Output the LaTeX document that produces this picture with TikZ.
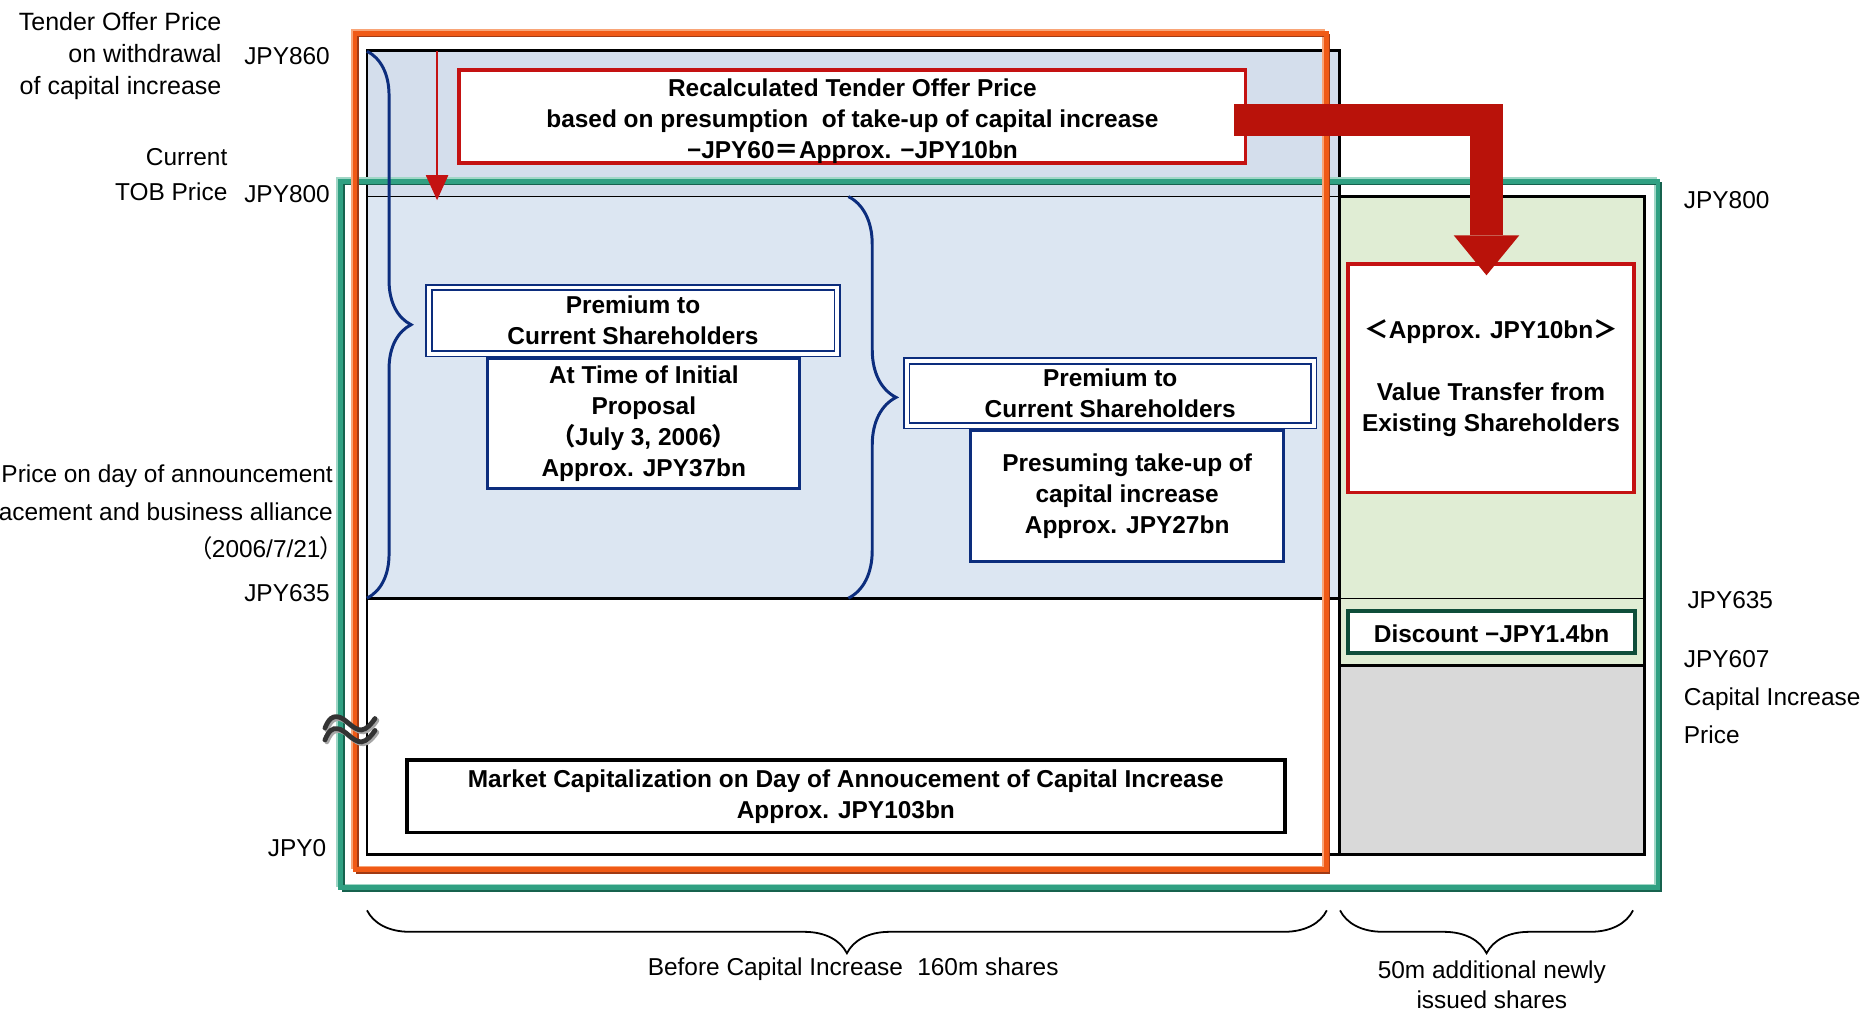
\documentclass[tikz,border=0pt]{standalone}
\usepackage{fontspec}
\setmainfont{Liberation Sans}
\newfontfamily\cjk{Noto Sans CJK JP}
\newfontfamily\cjkp[RawFeature=+palt]{Noto Sans CJK JP}
\usetikzlibrary{arrows.meta,decorations.pathreplacing,calc}
\definecolor{navy}{RGB}{12,45,125}
\definecolor{redbox}{RGB}{196,18,18}
\definecolor{bigred}{RGB}{185,18,10}
\definecolor{orangeM}{RGB}{240,90,22}
\definecolor{orangeL}{RGB}{248,165,120}
\definecolor{orangeD}{RGB}{160,58,20}
\definecolor{greenM}{RGB}{48,160,130}
\definecolor{greenL}{RGB}{160,215,198}
\definecolor{greenD}{RGB}{22,98,78}
\definecolor{bluefill}{RGB}{220,230,242}
\definecolor{bluehatch}{RGB}{212,222,236}
\definecolor{greenfill}{RGB}{224,237,212}
\definecolor{grayfill}{RGB}{217,217,217}
\definecolor{discgreen}{RGB}{14,78,58}
\begin{document}
\begin{tikzpicture}[x=1pt,y=-1pt,
  txt/.style={inner sep=0pt, font=\fontsize{20.5}{26}\selectfont},
  bx/.style={inner sep=0pt, align=center, fill=white, font=\fontsize{20.5}{26}\selectfont\bfseries,
    execute at begin node={\rule{0pt}{18pt}}},
  prem/.style={bx, draw=navy, double=white, double distance=3pt, line width=1.5pt},
  sub/.style={bx, draw=navy, line width=2.5pt},
  redframe/.style={bx, draw=redbox, line width=3pt},
  thickline/.style={line width=2.5pt},
  thinline/.style={line width=1pt},
  bracel/.style={navy, line width=2.5pt, decorate, decoration={brace, amplitude=#1}},
  braceb/.style={black, line width=1.5pt, decorate, decoration={brace, amplitude=36pt}},
  wave/.style={line width=4pt, line cap=round}
]
\useasboundingbox (0,0) rectangle (1566,848.46);

% ---- fills
\fill[bluehatch] (308,42) rectangle (1124,165);
\fill[bluefill] (308,165) rectangle (1124,502);
\fill[greenfill] (1124,165) rectangle (1380,558.6);
\fill[grayfill] (1124,558.6) rectangle (1380,717);

% ---- grid lines
\draw[thickline] (308,42) rectangle (1124,717);
\draw[thinline] (308,165) -- (1124,165);
\draw[thickline] (308,502) -- (1124,502);
\draw[thickline] (1124,165) rectangle (1380,717);
\draw[thinline] (1124,502.5) -- (1380,502.5);
\draw[thickline] (1124,558.6) -- (1380,558.6);

% ---- green frame (with bevel)
\draw[greenL, line width=2.5pt, shift={(-2.2,-2.2)}] (285.7,152.2) rectangle (1391.5,745);
\draw[greenD, line width=2.5pt, shift={(2.2,2.2)}] (285.7,152.2) rectangle (1391.5,745);
\draw[greenM, line width=4pt] (285.7,152.2) rectangle (1391.5,745);
% ---- orange frame (with bevel)
\draw[orangeL, line width=2.5pt, shift={(-2.2,-2.2)}] (298,28) rectangle (1113,730);
\draw[orangeD, line width=2.5pt, shift={(2.2,2.2)}] (298,28) rectangle (1113,730);
\draw[orangeM, line width=4pt] (298,28) rectangle (1113,730);

% ---- braces
\draw[bracel=37pt] (308,43) -- (308,502);
\draw[bracel=40pt] (712,165) -- (712,502);
\draw[braceb] (1113.5,764) -- (308,764);
\draw[braceb] (1370.5,764) -- (1124.6,764);

% ---- left labels
\node[txt, align=right, anchor=east, font=\fontsize{21}{27}\selectfont] (tender) at (186,47) {Tender Offer Price\\on withdrawal\\of capital increase};
\node[txt, align=right, anchor=east, font=\fontsize{20.5}{30}\selectfont] (tob) at (191,146.6) {Current\\TOB Price};
\node[txt, align=right, anchor=east, font=\fontsize{20.5}{31.5}\selectfont] (annc) at (279.5,430) {Price on day of announcement\\acement and business alliance\\{\cjkp （}2006/7/21{\cjkp ）}};
\node[txt, anchor=east] (l860) at (277,47) {JPY860};
\node[txt, anchor=east] (l800) at (277,163) {JPY800};
\node[txt, anchor=east] (l635) at (277,498) {JPY635};
\node[txt, anchor=east] (l0) at (274,712) {JPY0};

% ---- right labels
\node[txt, anchor=west] (r800) at (1413,168) {JPY800};
\node[txt, anchor=west] (r635) at (1416,503.5) {JPY635};
\node[txt, anchor=west, align=left, font=\fontsize{20.5}{31.5}\selectfont] (r607) at (1413,585) {JPY607\\Capital Increase\\Price};

% ---- bottom labels
\node[txt] (before) at (716,813.5) {Before Capital Increase\hspace{12pt}160m shares};
\node[txt, align=center, font=\fontsize{20.5}{25}\selectfont] (newly) at (1252,826.5) {50m additional newly\\issued shares};

% ---- boxes
\node[redframe, minimum width=660pt, minimum height=76.5pt] (recalc) at (715.4,97.9)
  {\rule{0pt}{22pt}Recalculated Tender Offer Price\\based on presumption\ \ of take-up of capital increase\\−JPY60{\cjk ＝}Approx. −JPY10bn};

\node[sub, minimum width=262pt, minimum height=108.6pt] (sub1) at (540.3,355.45)
  {At Time of Initial\\Proposal\\{\cjkp （}July 3, 2006{\cjkp ）}\\Approx. JPY37bn};
\node[prem, minimum width=342.5pt, minimum height=55.6pt] (prem1) at (531.25,269.1)
  {Premium to\\Current Shareholders};

\node[sub, minimum width=262.4pt, minimum height=109.4pt] (sub2) at (945.95,416.25)
  {Presuming take-up of\\capital increase\\Approx. JPY27bn};
\node[prem, minimum width=341.5pt, minimum height=54.4pt] (prem2) at (931.75,330.1)
  {Premium to\\Current Shareholders};

\node[redframe, minimum width=239.6pt, minimum height=191.7pt] (value) at (1251.3,317.35)
  {{\cjk ＜}Approx. JPY10bn{\cjk ＞}\\[26pt]Value Transfer from\\Existing Shareholders};

\node[bx, draw=discgreen, line width=3.5pt, minimum width=240.9pt, minimum height=35.1pt] (disc) at (1251.8,530.3)
  {Discount −JPY1.4bn};

\node[bx, draw=black, line width=3pt, minimum width=736.7pt, minimum height=60.8pt] (mcap) at (709.85,668.3)
  {Market Capitalization on Day of Annoucement of Capital Increase\\Approx. JPY103bn};

% ---- arrows
\coordinate (t860) at (366.8,43);
\coordinate (t800) at (366.8,168);
\draw[redbox, line width=2.2pt, -{Triangle[length=21pt,width=19pt,line width=0pt]}] (t860) -- (t800);

\coordinate (ba1) at ($(recalc.east)+(-11,2.85)$);
\coordinate (ba2) at (1247.5,231);
\draw[bigred, line width=27pt, -{Triangle[length=33.5pt,width=55pt,line width=0pt]}] (ba1) -| (ba2);

% ---- approximately-equal break mark
\foreach \dy in {0,10}{
  \draw[wave, black!35, shift={(1.6,\dy+1.6)}] (272.7,611) .. controls (276,603) and (279,601) .. (283,601.5) .. controls (290,602) and (296,613) .. (303.5,612.6) .. controls (308,612) and (312,607) .. (314.7,603);
  \draw[wave, black!80, shift={(0,\dy)}] (272.7,611) .. controls (276,603) and (279,601) .. (283,601.5) .. controls (290,602) and (296,613) .. (303.5,612.6) .. controls (308,612) and (312,607) .. (314.7,603);
}
\end{tikzpicture}
\end{document}
